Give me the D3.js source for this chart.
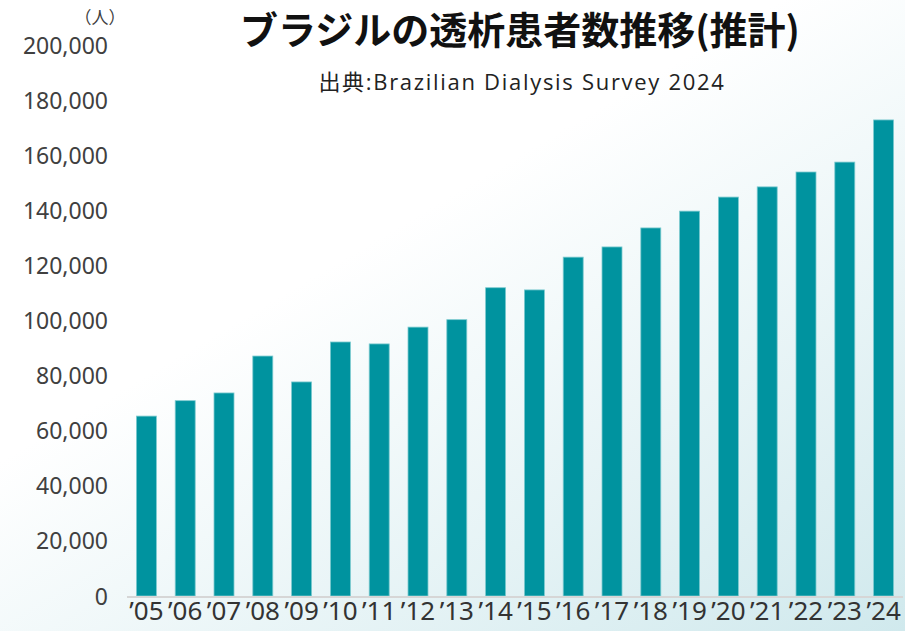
<!DOCTYPE html>
<html>
<head>
<meta charset="utf-8">
<script src="https://cdn.jsdelivr.net/npm/d3@7"></script>
<style>
  body { margin: 0; background: #fff; }
  svg { display: block; }
</style>
</head>
<body>
<div id="chart"></div>
<script>
// data
const years = ["’05","’06","’07","’08","’09","’10","’11","’12","’13","’14",
               "’15","’16","’17","’18","’19","’20","’21","’22","’23","’24"];
const patients = [65300, 70900, 73700, 87100, 77700, 92200, 91500, 97600, 100300, 111900,
                  111100, 123000, 126700, 133600, 139700, 144800, 148500, 153900, 157500, 172800];
const yTicks = [0, 20000, 40000, 60000, 80000, 100000, 120000, 140000, 160000, 180000, 200000];

const title = "ブラジルの透析患者数推移(推計)";
const source = "出典:Brazilian Dialysis Survey 2024";

const width = 905, height = 631;
const margin = {top: 45, right: 2, bottom: 35, left: 127};

const svg = d3.select("#chart")
  .append("svg")
  .attr("width", width)
  .attr("height", height);

// soft background wash in the lower right
const defs = svg.append("defs");
const grad = defs.append("linearGradient")
  .attr("id", "bg")
  .attr("x1", "0.45").attr("y1", "0.35")
  .attr("x2", "1").attr("y2", "1");
grad.append("stop").attr("offset", "0").attr("stop-color", "#ffffff");
grad.append("stop").attr("offset", "1").attr("stop-color", "#d0e9ed");

svg.append("rect")
  .attr("width", width)
  .attr("height", height)
  .attr("fill", "url(#bg)");

const x = d3.scaleBand()
  .domain(years)
  .range([margin.left, width - margin.right])
  .paddingInner(0.485)
  .paddingOuter(0.2425);

const y = d3.scaleLinear()
  .domain([0, 200000])
  .range([height - margin.bottom, margin.top]);

// y axis labels only
const yAxis = svg.append("g")
  .attr("transform", "translate(" + (margin.left - 16) + ",0)")
  .call(d3.axisLeft(y).tickValues(yTicks).tickFormat(d3.format(",")).tickSize(0));
yAxis.select(".domain").remove();
yAxis.selectAll("text")
  .attr("dy", "0.35em")
  .style("font-family", "'Noto Sans', 'Open Sans', sans-serif")
  .style("font-size", "23px")
  .style("fill", "#404040");

// bars
svg.append("g")
  .selectAll("rect")
  .data(patients)
  .enter()
  .append("rect")
  .attr("x", (d, i) => x(years[i]))
  .attr("y", d => y(d))
  .attr("width", x.bandwidth())
  .attr("height", d => y(0) - y(d))
  .attr("fill", "#00939f")
  .attr("stroke", "#7ccacf")
  .attr("stroke-width", 0.8);

// baseline
svg.append("line")
  .attr("x1", margin.left)
  .attr("x2", width - margin.right)
  .attr("y1", y(0) + 1)
  .attr("y2", y(0) + 1)
  .attr("stroke", "#d6d6d6")
  .attr("stroke-width", 2);

// x labels
const xAxis = svg.append("g")
  .attr("transform", "translate(0," + (y(0) + 2) + ")")
  .call(d3.axisBottom(x).tickSize(0).tickPadding(4));
xAxis.select(".domain").remove();
xAxis.selectAll("text")
  .style("font-family", "'Noto Sans', 'Open Sans', sans-serif")
  .style("font-size", "26px")
  .style("fill", "#333333");

// unit
svg.append("text")
  .attr("x", 100)
  .attr("y", 24)
  .attr("text-anchor", "middle")
  .style("font-family", "'Noto Sans CJK JP', sans-serif")
  .style("font-size", "17px")
  .style("fill", "#404040")
  .text("（人）");

// title
svg.append("text")
  .attr("x", 520)
  .attr("y", 44)
  .attr("text-anchor", "middle")
  .style("font-family", "'Noto Sans CJK JP', sans-serif")
  .style("font-weight", "bold")
  .style("font-size", "38px")
  .style("fill", "#111111")
  .text(title);

svg.append("text")
  .attr("x", 522)
  .attr("y", 90)
  .attr("text-anchor", "middle")
  .style("font-family", "'Open Sans', 'Noto Sans CJK JP', sans-serif")
  .style("font-size", "22px")
  .style("letter-spacing", "1.7px")
  .style("fill", "#222222")
  .text(source);
</script>
</body>
</html>
